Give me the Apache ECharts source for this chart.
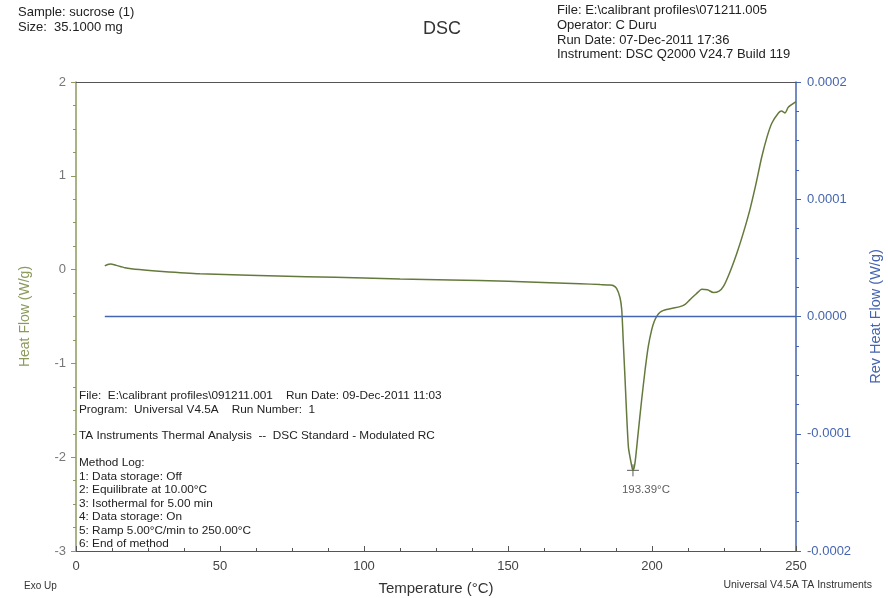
<!DOCTYPE html>
<html><head><meta charset="utf-8">
<script src="https://cdn.jsdelivr.net/npm/echarts@6/dist/echarts.min.js"></script>
<style>html,body{margin:0;padding:0;background:#fff}#c{width:888px;height:598px}</style>
</head><body><div id="c"></div>
<script>
// Heat Flow curve (W/g) vs Temperature (°C)
const temps = [10, 11, 12, 14, 17, 22, 30, 43, 60, 80, 100, 112.5, 130, 150, 164.6, 175, 182, 185.4, 186.5, 187.7, 188.9, 189.5, 190.0, 190.6, 191.8, 193, 193.4, 194.1, 195.2, 196.4, 197.6, 198.7, 199.9, 200.8, 201.8, 202.8, 204.0, 205.0, 207.4, 209.7, 211.5, 213.2, 215.3, 217.3, 219.3, 221.3, 223.3, 224.8, 227.0, 229.4, 231.5, 234, 236, 238.1, 240, 241.6, 243.9, 245.0, 246.2, 247.3, 250];
const heatFlow = [0.04, 0.055, 0.06, 0.045, 0.02, 0.0, -0.02, -0.045, -0.06, -0.075, -0.09, -0.10, -0.11, -0.125, -0.14, -0.15, -0.16, -0.165, -0.17, -0.2, -0.3, -0.43, -0.75, -1.14, -1.89, -2.10, -2.14, -2.06, -1.74, -1.39, -1.07, -0.82, -0.64, -0.55, -0.49, -0.455, -0.435, -0.425, -0.41, -0.395, -0.37, -0.32, -0.26, -0.21, -0.215, -0.245, -0.23, -0.18, -0.03, 0.17, 0.37, 0.64, 0.9, 1.2, 1.42, 1.56, 1.67, 1.69, 1.67, 1.73, 1.79];
// Rev Heat Flow (W/g)
const revTemps = [10, 250];
const revHeatFlow = [0, 0];
// Peak annotation
const peakTemp = 193.39;
const peakValue = -2.14;
const peakLabel = '193.39°C';
// Axis ticks
const xTicks = [0, 50, 100, 150, 200, 250];
const leftTicks = [-3, -2, -1, 0, 1, 2];
const rightTicks = [-0.0002, -0.0001, 0, 0.0001, 0.0002];

const headerLeft = ['Sample: sucrose (1)', 'Size:  35.1000 mg'];
const headerRight = ['File: E:\\calibrant profiles\\071211.005', 'Operator: C Duru', 'Run Date: 07-Dec-2011 17:36', 'Instrument: DSC Q2000 V24.7 Build 119'];
const infoBlock = [
  ['File:  E:\\calibrant profiles\\091211.001    Run Date: 09-Dec-2011 11:03', 0],
  ['Program:  Universal V4.5A    Run Number:  1', 13.5],
  ['TA Instruments Thermal Analysis  --  DSC Standard - Modulated RC', 40],
  ['Method Log:', 67],
  ['1: Data storage: Off', 80.5],
  ['2: Equilibrate at 10.00°C', 94],
  ['3: Isothermal for 5.00 min', 107.5],
  ['4: Data storage: On', 121],
  ['5: Ramp 5.00°C/min to 250.00°C', 134.5],
  ['6: End of method', 148]
];

const FONT = '"Liberation Sans", Arial, sans-serif';
const olive = '#8c9a5c';
const curveColor = '#647a3c';
const blue = '#4565b0';

const chart = echarts.init(document.getElementById('c'), null, {renderer: 'canvas'});
const graphics = [];
headerLeft.forEach((t, i) => graphics.push({type: 'text', left: 18, top: 6 + i * 14.5, style: {text: t, font: '13px ' + FONT, fill: '#222'}}));
headerRight.forEach((t, i) => graphics.push({type: 'text', left: 557, top: 4 + i * 14.8, style: {text: t, font: '13px ' + FONT, fill: '#222'}}));
infoBlock.forEach(([t, dy]) => graphics.push({type: 'text', left: 79, top: 390 + dy, style: {text: t, font: '11.8px ' + FONT, fill: '#222'}}));
graphics.push({type: 'text', left: 24, top: 581, style: {text: 'Exo Up', font: '10px ' + FONT, fill: '#333'}});
graphics.push({type: 'text', right: 16, top: 580, style: {text: 'Universal V4.5A TA Instruments', font: '10.5px ' + FONT, fill: '#333'}});

chart.setOption({
  animation: false,
  backgroundColor: '#fff',
  title: {text: 'DSC', left: 437, top: 15, textAlign: 'center', textStyle: {fontFamily: FONT, fontSize: 18, fontWeight: 'normal', color: '#333'}},
  graphic: graphics,
  grid: {left: 76, right: 92, top: 82, bottom: 47, containLabel: false, outerBoundsMode: 'none'},
  xAxis: [{
    type: 'value', min: 0, max: 250, interval: 50,
    name: 'Temperature (°C)', nameLocation: 'middle', nameGap: 30,
    nameTextStyle: {fontFamily: FONT, fontSize: 15, color: '#333'},
    axisLine: {onZero: false, lineStyle: {color: '#555', width: 1}},
    axisTick: {inside: true, length: 5, lineStyle: {color: '#555'}},
    minorTick: {show: true, splitNumber: 4, length: 3, lineStyle: {color: '#555'}},
    axisLabel: {fontFamily: FONT, fontSize: 13, color: '#444', margin: 9, customValues: xTicks},
    splitLine: {show: false}
  }, {
    type: 'value', position: 'top', min: 0, max: 250,
    axisLine: {show: true, onZero: false, lineStyle: {color: '#555', width: 1}},
    axisTick: {show: false}, axisLabel: {show: false}, splitLine: {show: false}
  }],
  yAxis: [{
    type: 'value', min: -3, max: 2, interval: 1, position: 'left',
    name: 'Heat Flow (W/g)', nameLocation: 'middle', nameGap: 44, nameRotate: 90,
    nameTextStyle: {fontFamily: FONT, fontSize: 14, color: olive},
    axisLine: {show: true, onZero: false, lineStyle: {color: olive, width: 1.5}},
    axisTick: {show: true, length: 5, lineStyle: {color: olive}},
    minorTick: {show: true, splitNumber: 4, length: 3, lineStyle: {color: olive}},
    axisLabel: {fontFamily: FONT, fontSize: 13, color: '#777', margin: 10},
    splitLine: {show: false}
  }, {
    type: 'value', min: -0.0002, max: 0.0002, interval: 0.0001, position: 'right',
    name: 'Rev Heat Flow (W/g)', nameLocation: 'middle', nameGap: 72, nameRotate: 90,
    nameTextStyle: {fontFamily: FONT, fontSize: 14.5, color: blue},
    axisLine: {show: true, onZero: false, lineStyle: {color: blue, width: 1.5}},
    axisTick: {show: true, length: 5, lineStyle: {color: blue}},
    minorTick: {show: true, splitNumber: 4, length: 3, lineStyle: {color: blue}},
    axisLabel: {fontFamily: FONT, fontSize: 13, color: blue, margin: 11, formatter: v => (Math.abs(v) < 1e-12 ? 0 : v).toFixed(4)},
    splitLine: {show: false}
  }],
  series: [{
    type: 'line', xAxisIndex: 0, yAxisIndex: 0,
    data: temps.map((t, i) => [t, heatFlow[i]]),
    showSymbol: false, smooth: 0.2,
    lineStyle: {color: curveColor, width: 1.5}
  }, {
    type: 'line', xAxisIndex: 0, yAxisIndex: 1,
    data: revTemps.map((t, i) => [t, revHeatFlow[i]]),
    showSymbol: false,
    lineStyle: {color: blue, width: 1.5}
  }, {
    type: 'scatter', xAxisIndex: 0, yAxisIndex: 0,
    data: [[peakTemp, peakValue]],
    symbol: 'path://M0,5L10,5M5,0L5,10', symbolSize: 12,
    itemStyle: {color: 'none', borderColor: '#333', borderWidth: 1},
    label: {show: true, position: 'bottom', distance: 5, formatter: peakLabel, fontFamily: FONT, fontSize: 11.5, color: '#333', offset: [13, 0]}
  }]
});
</script></body></html>
